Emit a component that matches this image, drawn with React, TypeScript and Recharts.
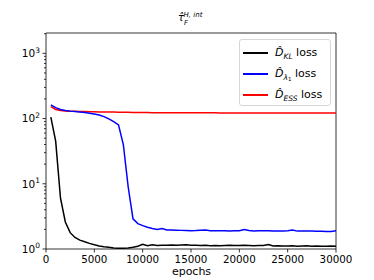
import React from 'react';
import { LineChart, Line, XAxis, YAxis, Legend, Customized, ReferenceLine } from 'recharts';

const epochs = [500, 1000, 1500, 2000, 2500, 3000, 3500, 4000, 4500, 5000, 5500, 6000, 6500, 7000, 7500, 8000, 8500, 9000, 9500, 10000, 10500, 11000, 11500, 12000, 12500, 13000, 13500, 14000, 14500, 15000, 15500, 16000, 16500, 17000, 17500, 18000, 18500, 19000, 19500, 20000, 20500, 21000, 21500, 22000, 22500, 23000, 23500, 24000, 24500, 25000, 25500, 26000, 26500, 27000, 27500, 28000, 28500, 29000, 29500, 30000];

const klLoss = [105, 45, 6.0, 2.6, 1.78, 1.5, 1.37, 1.29, 1.22, 1.16, 1.11, 1.08, 1.06, 1.04, 1.03, 1.03, 1.04, 1.06, 1.1, 1.18, 1.12, 1.16, 1.13, 1.14, 1.14, 1.15, 1.14, 1.15, 1.16, 1.14, 1.14, 1.13, 1.14, 1.12, 1.13, 1.12, 1.13, 1.14, 1.13, 1.13, 1.14, 1.13, 1.12, 1.13, 1.13, 1.17, 1.11, 1.12, 1.11, 1.11, 1.12, 1.1, 1.11, 1.12, 1.1, 1.11, 1.1, 1.1, 1.11, 1.1];

const lambdaLoss = [162, 147, 138, 133, 130, 128, 126, 124, 121, 117, 113, 107, 99, 90, 80, 40, 9, 2.9, 2.45, 2.28, 2.16, 2.06, 2.0, 2.06, 1.96, 1.95, 1.94, 1.93, 1.92, 1.91, 1.92, 1.94, 1.95, 1.91, 1.9, 1.91, 1.9, 1.89, 1.9, 1.91, 1.99, 1.92, 1.88, 1.91, 1.9, 1.9, 1.89, 1.89, 1.88, 1.9, 1.95, 1.88, 1.88, 1.88, 1.89, 1.87, 1.87, 1.86, 1.86, 1.9];

const essLoss = [152, 138, 133, 130, 129, 129, 128.5, 128, 127.5, 127, 126.5, 126, 126, 125.5, 125, 125, 124.5, 124, 124, 123.5, 123.5, 123, 123, 123, 122.8, 122.8, 122.6, 122.6, 122.5, 122.5, 122.4, 122.4, 122.3, 122.3, 122.3, 122.2, 122.2, 122.2, 122.1, 122.1, 122.1, 122, 122, 122, 122, 122, 121.9, 121.9, 121.9, 121.9, 121.8, 121.8, 121.8, 121.8, 121.8, 121.8, 121.8, 121.8, 121.8, 121.8];

const xTicks = [0, 5000, 10000, 15000, 20000, 25000, 30000];
const yTicks = [1, 2, 3, 4, 5, 6, 7, 8, 9, 10, 20, 30, 40, 50, 60, 70, 80, 90, 100, 200, 300, 400, 500, 600, 700, 800, 900, 1000, 2000];
const xDomain: [number, number] = [0, 30000];
const yDomain: [number, number] = [1, 2050];

const data = epochs.map((e, i) => ({ epoch: e, kl: klLoss[i], lam: lambdaLoss[i], ess: essLoss[i] }));

const FONT = 'DejaVu Sans';

const YTick = (props: any) => {
  const { x, y, payload } = props;
  const v = payload.value;
  const exp = Math.log10(v);
  const major = Math.abs(exp - Math.round(exp)) < 1e-9;
  return (
    <g>
      <line x1={x - (major ? 3.5 : 2)} x2={x} y1={y} y2={y} stroke="#000" strokeWidth={0.8} />
      {major && (
        <text x={x - 6} y={y + 3.8} textAnchor="end" fontSize={10.5} fontFamily={FONT} fill="#000">
          <tspan>10</tspan>
          <tspan dy={-4.5} fontSize={7.5}>{Math.round(exp)}</tspan>
        </text>
      )}
    </g>
  );
};

const XTick = (props: any) => {
  const { x, y, payload } = props;
  return (
    <g>
      <line x1={x} x2={x} y1={y} y2={y + 3.5} stroke="#000" strokeWidth={0.8} />
      <text x={x} y={y + 14} textAnchor="middle" fontSize={10.3} fontFamily={FONT} fill="#000">
        {payload.value}
      </text>
    </g>
  );
};

const Title = () => (
  <g>
    <text x={178} y={21} fontSize={10} fontFamily={FONT} fill="#000">
      <tspan fontStyle="italic">{'\u03C4\u0302'}</tspan>
      <tspan fontSize={7} dy={3.5} fontStyle="italic">F</tspan>
      <tspan fontSize={7} dx={-4.5} dy={-8} fontStyle="italic">H, int</tspan>
    </text>
    <text x={191.5} y={274.5} textAnchor="middle" fontSize={11} fontFamily={FONT} fill="#000">epochs</text>
  </g>
);

const items = [
  { color: '#000000', sub: 'KL' },
  { color: '#0000ff', sub: 'lam' },
  { color: '#ff0000', sub: 'ESS' },
];

const LegendContent = () => (
  <div
    style={{
      boxSizing: 'border-box',
      width: 92,
      height: 67,
      border: '1px solid #d6d6d6',
      borderRadius: 3,
      background: 'rgba(255,255,255,0.8)',
      fontFamily: FONT,
      fontSize: 11,
      position: 'relative',
      color: '#000',
    }}
  >
    {items.map((it, i) => (
      <div key={i} style={{ position: 'absolute', left: 3, top: 13 + i * 21 - 10, height: 20, display: 'flex', alignItems: 'center' }}>
        <div style={{ width: 25, height: 1.5, background: it.color }} />
        <div style={{ marginLeft: 7, whiteSpace: 'nowrap', lineHeight: '20px' }}>
          <span style={{ fontStyle: 'italic' }}>{'D\u0302'}</span>
          {it.sub === 'lam' ? (
            <span style={{ fontStyle: 'italic', fontSize: 7.5, position: 'relative', top: 3 }}>
              {'\u03BB'}
              <span style={{ fontSize: 5.5, position: 'relative', top: 1.5, fontStyle: 'normal' }}>1</span>
            </span>
          ) : (
            <span style={{ fontStyle: 'italic', fontSize: 7.5, position: 'relative', top: 3 }}>{it.sub}</span>
          )}
          <span> loss</span>
        </div>
      </div>
    ))}
  </div>
);

export default function App() {
  return (
    <div style={{ position: 'absolute', left: 0, top: 0, width: 374, height: 280, background: '#fff' }}>
      <LineChart width={374} height={280} data={data} margin={{ top: 33, right: 38, left: 0, bottom: 0 }}>
        <XAxis
          dataKey="epoch"
          type="number"
          domain={xDomain}
          ticks={xTicks}
          interval={0}
          height={31}
          tickSize={0}
          tickMargin={0}
          tick={<XTick />}
          axisLine={{ stroke: '#000', strokeWidth: 0.8 }}
          tickLine={false}
          allowDataOverflow
        />
        <YAxis
          scale="log"
          type="number"
          domain={yDomain}
          allowDataOverflow
          ticks={yTicks}
          interval={0}
          width={46}
          tickSize={0}
          tickMargin={0}
          tick={<YTick />}
          tickLine={false}
          axisLine={{ stroke: '#000', strokeWidth: 0.8 }}
        />
        <ReferenceLine y={yDomain[1]} stroke="#000" strokeWidth={0.8} />
        <ReferenceLine x={xDomain[1]} stroke="#000" strokeWidth={0.8} />
        <Line dataKey="ess" stroke="#ff0000" strokeWidth={1.5} dot={false} isAnimationActive={false} />
        <Line dataKey="lam" stroke="#0000ff" strokeWidth={1.5} dot={false} isAnimationActive={false} />
        <Line dataKey="kl" stroke="#000000" strokeWidth={1.5} dot={false} isAnimationActive={false} />
        <Legend
          layout="vertical"
          align="center"
          verticalAlign="middle"
          content={<LegendContent />}
          wrapperStyle={{ left: 239, top: 39, width: 92, height: 67 }}
        />
        <Customized component={<Title />} />
      </LineChart>
    </div>
  );
}
